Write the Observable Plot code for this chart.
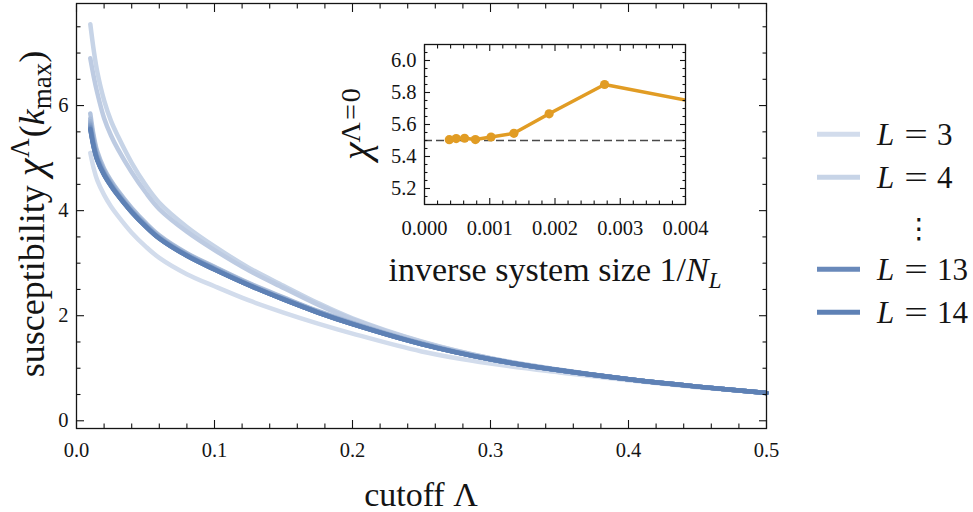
<!DOCTYPE html>
<html><head><meta charset="utf-8">
<script src="https://cdn.jsdelivr.net/npm/d3@7"></script>
<script src="https://cdn.jsdelivr.net/npm/@observablehq/plot@0.6"></script>
<style>
html,body{margin:0;padding:0;background:#fff;}
#wrap{position:relative;width:973px;height:512px;overflow:hidden;}
#main{position:absolute;left:0;top:0;}
#inset{position:absolute;left:320px;top:20px;}
svg{overflow:visible;}
</style></head><body>
<div id="wrap"><div id="main"></div><div id="inset"></div></div>
<script>
// ---------- data: main panel (cutoff Λ vs susceptibility) ----------
const cutoff = [0.01, 0.0125, 0.015, 0.02, 0.025, 0.03, 0.04, 0.05, 0.06, 0.08, 0.1, 0.125, 0.15, 0.175, 0.2, 0.25, 0.3, 0.35, 0.4, 0.45, 0.5];
const chiL3  = [5.10, 4.80, 4.58, 4.30, 4.08, 3.90, 3.58, 3.32, 3.10, 2.79, 2.56, 2.29, 2.06, 1.85, 1.66, 1.32, 1.09, 0.92, 0.77, 0.64, 0.53];
const chiL4  = [7.55, 7.05, 6.65, 6.10, 5.71, 5.42, 4.91, 4.49, 4.15, 3.69, 3.32, 2.91, 2.57, 2.24, 1.95, 1.51, 1.19, 0.97, 0.79, 0.65, 0.53];
const chiL5  = [6.90, 6.55, 6.25, 5.76, 5.43, 5.17, 4.73, 4.35, 4.03, 3.60, 3.25, 2.86, 2.53, 2.21, 1.93, 1.50, 1.19, 0.97, 0.79, 0.65, 0.53];
const chiL6  = [5.85, 5.42, 5.13, 4.80, 4.57, 4.38, 4.05, 3.77, 3.53, 3.19, 2.93, 2.62, 2.35, 2.09, 1.87, 1.48, 1.18, 0.96, 0.79, 0.65, 0.53];
const chiL7  = [5.75, 5.36, 5.09, 4.77, 4.55, 4.36, 4.03, 3.75, 3.51, 3.18, 2.92, 2.61, 2.34, 2.08, 1.86, 1.47, 1.18, 0.96, 0.79, 0.65, 0.53];
const chiL8  = [5.70, 5.32, 5.06, 4.75, 4.53, 4.34, 4.01, 3.74, 3.50, 3.17, 2.91, 2.60, 2.33, 2.08, 1.86, 1.47, 1.17, 0.96, 0.79, 0.65, 0.53];
const chiL9  = [5.66, 5.29, 5.03, 4.73, 4.51, 4.32, 4.00, 3.73, 3.49, 3.16, 2.90, 2.59, 2.32, 2.07, 1.85, 1.47, 1.17, 0.96, 0.79, 0.65, 0.53];
const chiL10 = [5.63, 5.26, 5.01, 4.71, 4.50, 4.31, 3.99, 3.72, 3.48, 3.15, 2.89, 2.59, 2.32, 2.07, 1.85, 1.46, 1.17, 0.96, 0.79, 0.65, 0.53];
const chiL11 = [5.60, 5.24, 4.99, 4.70, 4.49, 4.30, 3.98, 3.71, 3.48, 3.15, 2.89, 2.58, 2.31, 2.06, 1.84, 1.46, 1.17, 0.96, 0.79, 0.65, 0.53];
const chiL12 = [5.58, 5.22, 4.98, 4.69, 4.48, 4.30, 3.98, 3.71, 3.47, 3.14, 2.88, 2.58, 2.31, 2.06, 1.84, 1.46, 1.17, 0.96, 0.79, 0.65, 0.53];
const chiL13 = [5.56, 5.21, 4.97, 4.68, 4.47, 4.29, 3.97, 3.70, 3.47, 3.14, 2.88, 2.58, 2.31, 2.06, 1.84, 1.46, 1.17, 0.96, 0.79, 0.65, 0.53];
const chiL14 = [5.55, 5.20, 4.96, 4.68, 4.47, 4.29, 3.97, 3.70, 3.47, 3.14, 2.88, 2.58, 2.31, 2.06, 1.84, 1.46, 1.17, 0.96, 0.79, 0.65, 0.53];
const systemSizes = [3, 4, 5, 6, 7, 8, 9, 10, 11, 12, 13, 14];
const seriesValues = [chiL3, chiL4, chiL5, chiL6, chiL7, chiL8, chiL9, chiL10, chiL11, chiL12, chiL13, chiL14];
const legendSizes = [3, 4, 13, 14];

// ---------- data: inset (χ at Λ=0 vs 1/N_L) ----------
const inverseSize = [0.00038, 0.000486, 0.000614, 0.00078, 0.00102, 0.00137, 0.00191, 0.00276, 0.0046];
const chiZero     = [5.505, 5.512, 5.514, 5.506, 5.522, 5.545, 5.667, 5.850, 5.705];
const referenceLevel = [5.5];

// ---------- ticks ----------
const xMajor = [0, 0.1, 0.2, 0.3, 0.4, 0.5];
const xMinor = [0.02,0.04,0.06,0.08,0.12,0.14,0.16,0.18,0.22,0.24,0.26,0.28,0.32,0.34,0.36,0.38,0.42,0.44,0.46,0.48];
const yMajor = [0, 2, 4, 6];
const yMinor = [0.5, 1, 1.5, 2.5, 3, 3.5, 4.5, 5, 5.5, 6.5, 7, 7.5];
const ixMajor = [0, 0.001, 0.002, 0.003, 0.004];
const ixMinor = [0.0002,0.0004,0.0006,0.0008,0.0012,0.0014,0.0016,0.0018,0.0022,0.0024,0.0026,0.0028,0.0032,0.0034,0.0036,0.0038];
const iyMajor = [5.2, 5.4, 5.6, 5.8, 6.0];
const iyMinor = [5.15,5.25,5.3,5.35,5.45,5.5,5.55,5.65,5.7,5.75,5.85,5.9,5.95,6.05];

// ---------- build tables ----------
const rows = [];
systemSizes.forEach((L, k) => seriesValues[k].forEach((v, i) => rows.push({L, cutoff: cutoff[i], chi: v})));
const insetRows = inverseSize.map((v, i) => ({inv: v, chi: chiZero[i]}));

const INK = "#141414";
const serif = "'Liberation Serif', 'Times New Roman', serif";
const baseStyle = {fontFamily: serif, fontSize: "20.5px", color: INK, background: "transparent", overflow: "visible"};
const blank = () => "";
const TF = 20.5;

function frameTicks(xs, ys, sizes) {
  const [maj, min] = sizes;
  return [
    Plot.axisX({ticks: xs[1], anchor: "bottom", tickSize: min, dy: -min, tickFormat: blank, label: null, strokeWidth: 1.1}),
    Plot.axisX({ticks: xs[1], anchor: "top", tickSize: min, dy: min, tickFormat: blank, label: null, strokeWidth: 1.1}),
    Plot.axisX({ticks: xs[0], anchor: "top", tickSize: maj, dy: maj, tickFormat: blank, label: null, strokeWidth: 1.1}),
    Plot.axisY({ticks: ys[1], anchor: "left", tickSize: min, dx: min, tickFormat: blank, label: null, strokeWidth: 1.1}),
    Plot.axisY({ticks: ys[1], anchor: "right", tickSize: min, dx: -min, tickFormat: blank, label: null, strokeWidth: 1.1}),
    Plot.axisY({ticks: ys[0], anchor: "right", tickSize: maj, dx: -maj, tickFormat: blank, label: null, strokeWidth: 1.1})
  ];
}

// ---------- main plot ----------
const main = Plot.plot({
  width: 973, height: 512,
  marginLeft: 76, marginRight: 207, marginTop: 3, marginBottom: 84,
  x: {domain: [0, 0.5]},
  y: {domain: [-0.147, 7.943]},
  color: {type: "linear", domain: [3, 14], range: ["#d2dcec", "#5e81b5"]},
  style: baseStyle,
  marks: [
    Plot.line(rows, {x: "cutoff", y: "chi", z: "L", stroke: "L", strokeWidth: 4.5, curve: "catmull-rom"}),
    Plot.frame({stroke: INK, strokeWidth: 1.3}),
    Plot.axisX({ticks: xMajor, anchor: "bottom", tickSize: 8, dy: -8, tickPadding: 14, fontSize: TF, tickFormat: d3.format(".1f"), label: null, strokeWidth: 1.1}),
    Plot.axisY({ticks: yMajor, anchor: "left", tickSize: 8, dx: 8, tickPadding: 8, fontSize: TF, tickFormat: d3.format("d"), label: null, strokeWidth: 1.1}),
    ...frameTicks([xMajor, xMinor], [yMajor, yMinor], [8, 4.5])
  ]
});
document.getElementById("main").appendChild(main);

const color = main.scale("color");
const ms = d3.select(main);

// axis titles
ms.append("text").attr("x", 421).attr("y", 506).attr("text-anchor", "middle")
  .attr("font-family", serif).attr("font-size", 34).attr("fill", INK).text("cutoff Λ");

const yl = ms.append("text").attr("transform", "translate(44,214) rotate(-90)")
  .attr("text-anchor", "middle").attr("font-family", serif).attr("font-size", 36).attr("fill", INK);
yl.append("tspan").text("susceptibility ");
yl.append("tspan").attr("font-style", "italic").attr("font-size", 40).text("χ");
yl.append("tspan").attr("font-size", 27).attr("dy", -15).attr("dx", 1).text("Λ");
yl.append("tspan").attr("dy", 15).attr("dx", 1).text("(");
yl.append("tspan").attr("font-style", "italic").text("k");
yl.append("tspan").attr("font-size", 27).attr("dy", 7).text("max");
yl.append("tspan").attr("dy", -7).text(")");

// legend
const legendRows = [134.3, 177.3, 269.3, 312.3];
legendSizes.forEach((L, i) => {
  const yy = legendRows[i];
  ms.append("line").attr("x1", 817).attr("x2", 860).attr("y1", yy).attr("y2", yy)
    .attr("stroke", color.apply(L)).attr("stroke-width", 5);
  ms.append("text").attr("x", 877).attr("y", yy + 11).attr("text-anchor", "start").attr("font-family", serif)
    .attr("font-size", 31).attr("font-style", "italic").attr("fill", INK).text("L");
  ms.append("text").attr("transform", `translate(916,${yy + 11}) scale(1.35,1)`).attr("text-anchor", "middle")
    .attr("font-family", serif).attr("font-size", 31).attr("fill", INK).text("=");
  ms.append("text").attr("x", 937).attr("y", yy + 11).attr("text-anchor", "start").attr("font-family", serif)
    .attr("font-size", 31).attr("fill", INK).text(String(L));
});
ms.append("text").attr("x", 919).attr("y", 238).attr("text-anchor", "middle")
  .attr("font-family", "'DejaVu Sans', sans-serif").attr("font-size", 28).attr("fill", INK).text("⋮");

// ---------- inset ----------
const inset = Plot.plot({
  width: 420, height: 260,
  marginLeft: 104, marginRight: 55, marginTop: 24, marginBottom: 76,
  x: {domain: [0, 0.004]},
  y: {domain: [5.1, 6.1]},
  style: baseStyle,
  marks: [
    Plot.ruleY(referenceLevel, {stroke: "#4a4a4a", strokeWidth: 1.4, strokeDasharray: "8,4"}),
    Plot.line(insetRows, {x: "inv", y: "chi", stroke: "#e19c24", strokeWidth: 3.5, clip: true}),
    Plot.dot(insetRows.filter(d => d.inv <= 0.004), {x: "inv", y: "chi", r: 4.6, fill: "#e19c24"}),
    Plot.frame({stroke: INK, strokeWidth: 1.3}),
    Plot.axisX({ticks: ixMajor, anchor: "bottom", tickSize: 6, dy: -6, tickPadding: 16, fontSize: TF, tickFormat: d3.format(".3f"), label: null, strokeWidth: 1.1}),
    Plot.axisY({ticks: iyMajor, anchor: "left", tickSize: 6, dx: 6, tickPadding: 8, fontSize: TF, tickFormat: d3.format(".1f"), label: null, strokeWidth: 1.1}),
    ...frameTicks([ixMajor, ixMinor], [iyMajor, iyMinor], [6, 3.5])
  ]
});
document.getElementById("inset").appendChild(inset);
const is = d3.select(inset);
const xl = is.append("text").attr("x", 235).attr("y", 261).attr("text-anchor", "middle")
  .attr("font-family", serif).attr("font-size", 34).attr("fill", INK);
xl.append("tspan").text("inverse system size 1/");
xl.append("tspan").attr("font-style", "italic").text("N");
xl.append("tspan").attr("font-style", "italic").attr("font-size", 23).attr("dy", 7).text("L");

const il = is.append("text").attr("transform", "translate(49,140) rotate(-90)")
  .attr("text-anchor", "start").attr("font-family", serif).attr("font-size", 40).attr("fill", INK);
il.append("tspan").attr("font-style", "italic").text("χ");
il.append("tspan").attr("font-size", 28).attr("dy", -9).attr("letter-spacing", 2).text("Λ=0");
</script>
</body></html>
